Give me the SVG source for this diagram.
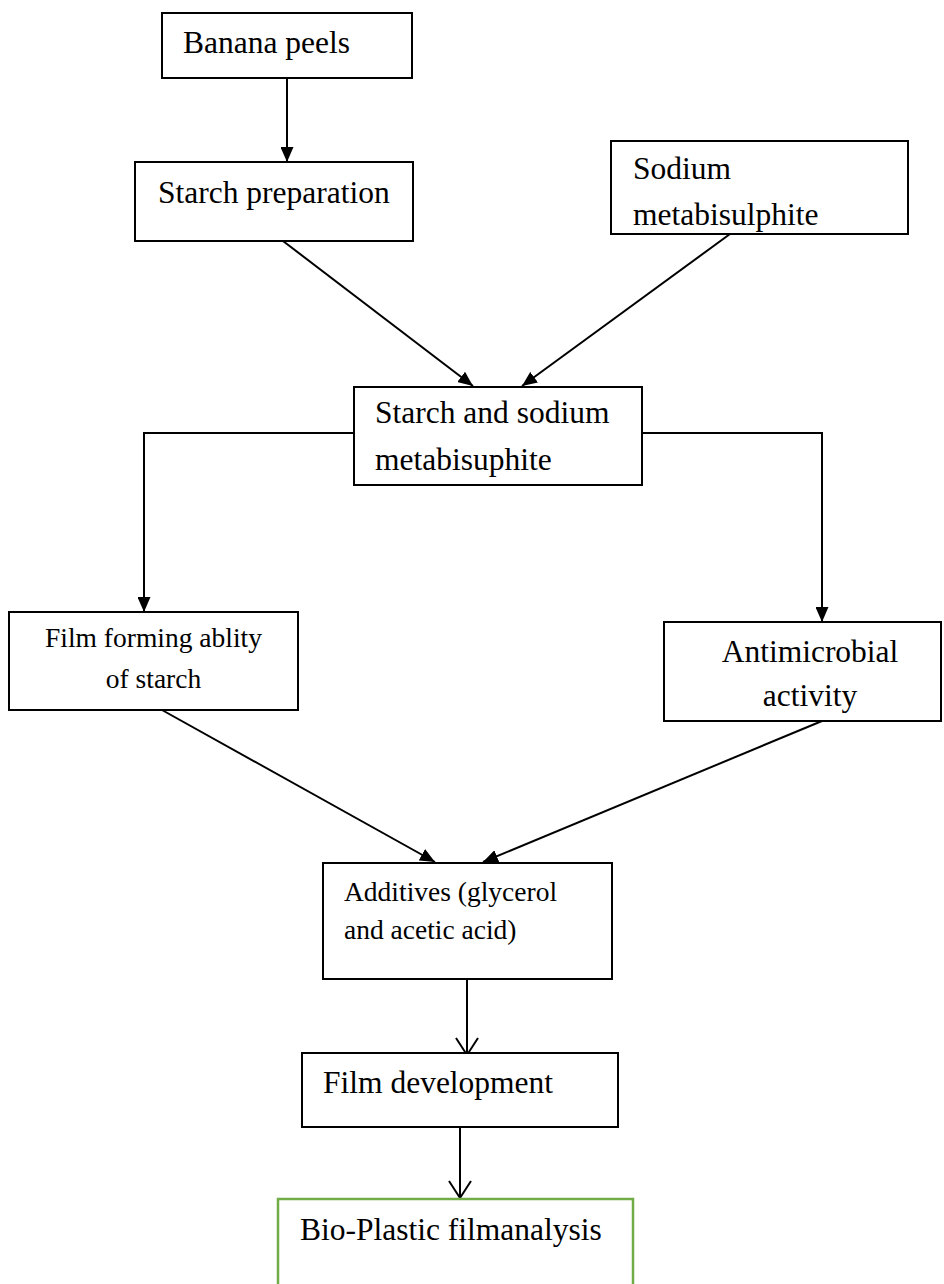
<svg xmlns="http://www.w3.org/2000/svg" width="944" height="1284" viewBox="0 0 944 1284">
<defs>
<style>
.box{fill:#fff;stroke:#000;stroke-width:2}
.green{fill:#fff;stroke:#70AD47;stroke-width:2.5}
.t{font-family:"Liberation Serif","Times New Roman",serif;font-size:31.5px;fill:#000}
.s{font-family:"Liberation Serif","Times New Roman",serif;font-size:27.5px;fill:#000}
.c{fill:none;stroke:#000;stroke-width:2}
</style>
<marker id="ah" markerUnits="userSpaceOnUse" viewBox="0 0 15 13" refX="15" refY="6.5" markerWidth="15" markerHeight="13" orient="auto">
<path d="M0,0 L15,6.5 L0,13 z" fill="#000"/>
</marker>
<marker id="av" markerUnits="userSpaceOnUse" viewBox="-19 -13 21 26" refX="0" refY="0" markerWidth="21" markerHeight="26" orient="auto">
<path d="M-17,-11 L0,0 L-17,11" fill="none" stroke="#000" stroke-width="2"/>
</marker>
</defs>
<rect width="944" height="1284" fill="#fff"/>
<g id="connectors">
<path class="c" d="M287,78 L287,162" marker-end="url(#ah)"/>
<path class="c" d="M283,241 L473,386" marker-end="url(#ah)"/>
<path class="c" d="M730,234 L522,386" marker-end="url(#ah)"/>
<path class="c" d="M354,433 L144,433 L144,612" marker-end="url(#ah)"/>
<path class="c" d="M642,433 L822,433 L822,622" marker-end="url(#ah)"/>
<path class="c" d="M162,710 L435,862" marker-end="url(#ah)"/>
<path class="c" d="M822,721 L483,862" marker-end="url(#ah)"/>
<path class="c" d="M467,979 L467,1055" marker-end="url(#av)"/>
<path class="c" d="M460,1127 L460,1198" marker-end="url(#av)"/>
</g>
<g id="banana">
<rect class="box" x="162" y="13" width="250" height="65"/>
<text class="t" x="183" y="53">Banana peels</text>
</g>
<g id="starch-prep">
<rect class="box" x="135" y="162" width="278" height="79"/>
<text class="t" x="158" y="203">Starch preparation</text>
</g>
<g id="sodium">
<rect class="box" x="611" y="141" width="297" height="93"/>
<text class="t" x="633" y="179">Sodium</text>
<text class="t" x="633" y="225">metabisulphite</text>
</g>
<g id="starch-sodium">
<rect class="box" x="354" y="387" width="288" height="98"/>
<text class="t" x="375" y="423">Starch and sodium</text>
<text class="t" x="375" y="470">metabisuphite</text>
</g>
<g id="film-forming">
<rect class="box" x="9" y="612" width="289" height="98"/>
<text class="s" x="153.5" y="647" text-anchor="middle">Film forming ablity</text>
<text class="s" x="153.5" y="688" text-anchor="middle">of starch</text>
</g>
<g id="antimicrobial">
<rect class="box" x="664" y="622" width="277" height="99"/>
<text class="t" x="810" y="662" text-anchor="middle">Antimicrobial</text>
<text class="t" x="810" y="706" text-anchor="middle">activity</text>
</g>
<g id="additives">
<rect class="box" x="323" y="863" width="289" height="116"/>
<text class="s" x="344" y="901">Additives (glycerol</text>
<text class="s" x="344" y="939">and acetic acid)</text>
</g>
<g id="film-dev">
<rect class="box" x="302" y="1053" width="316" height="74"/>
<text class="t" x="323" y="1093">Film development</text>
</g>
<g id="bioplastic">
<rect class="green" x="278" y="1199" width="355" height="120"/>
<text class="t" x="300" y="1240">Bio-Plastic filmanalysis</text>
</g>
</svg>
